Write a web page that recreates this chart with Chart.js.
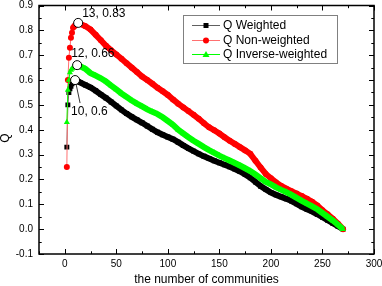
<!DOCTYPE html>
<html>
<head>
<meta charset="utf-8">
<script src="https://cdn.jsdelivr.net/npm/chart.js@4.4.0/dist/chart.umd.min.js"></script>
<style>
  html, body { margin: 0; padding: 0; background: #fff; }
</style>
</head>
<body>
<canvas id="qChart" width="382" height="286"></canvas>
<script>
// number of communities (x) and modularity values
const communities = [2, 3, 4, 5, 6, 7, 8, 9, 10, 11, 12, 13,
  15, 20, 25, 30, 35, 40, 45, 50, 55, 60, 65, 70, 75, 80, 85, 90, 95, 100,
  105, 110, 115, 120, 125, 130, 135, 140, 145, 150, 155, 160, 165, 170, 175, 180,
  185, 190, 195, 200, 205, 210, 215, 220, 225, 230, 235, 240, 245, 250, 255, 260, 265, 270];

const qWeighted = [0.33, 0.50, 0.55, 0.565, 0.575, 0.585, 0.59, 0.595, 0.60, 0.598, 0.596, 0.594,
  0.59, 0.58, 0.57, 0.557, 0.542, 0.528, 0.512, 0.496, 0.48, 0.465, 0.452, 0.44, 0.428, 0.415, 0.402, 0.39, 0.38, 0.371,
  0.362, 0.35, 0.337, 0.325, 0.314, 0.303, 0.293, 0.284, 0.275, 0.267, 0.259, 0.251, 0.242, 0.232, 0.22, 0.207,
  0.19, 0.173, 0.16, 0.147, 0.138, 0.13, 0.122, 0.113, 0.102, 0.09, 0.08, 0.071, 0.06, 0.048, 0.036, 0.024, 0.012, 0.0];

const qNonWeighted = [0.25, 0.60, 0.69, 0.73, 0.77, 0.79, 0.81, 0.815, 0.82, 0.825, 0.828, 0.83,
  0.826, 0.817, 0.803, 0.782, 0.76, 0.738, 0.72, 0.703, 0.686, 0.668, 0.65, 0.632, 0.614, 0.60, 0.585, 0.569, 0.555, 0.54,
  0.522, 0.505, 0.49, 0.475, 0.46, 0.444, 0.426, 0.41, 0.398, 0.385, 0.37, 0.356, 0.343, 0.33, 0.317, 0.303,
  0.275, 0.248, 0.222, 0.205, 0.188, 0.174, 0.163, 0.153, 0.143, 0.133, 0.122, 0.11, 0.095, 0.076, 0.06, 0.042, 0.022, 0.0];

const qInverse = [0.43, 0.56, 0.60, 0.63, 0.64, 0.645, 0.65, 0.653, 0.656, 0.658, 0.66, 0.658,
  0.655, 0.645, 0.628, 0.618, 0.607, 0.594, 0.578, 0.562, 0.546, 0.532, 0.518, 0.505, 0.494, 0.482, 0.472, 0.463, 0.45, 0.435,
  0.42, 0.40, 0.385, 0.37, 0.356, 0.343, 0.33, 0.318, 0.307, 0.296, 0.286, 0.276, 0.266, 0.256, 0.245, 0.234,
  0.22, 0.205, 0.19, 0.18, 0.168, 0.158, 0.149, 0.138, 0.126, 0.114, 0.103, 0.092, 0.08, 0.065, 0.05, 0.035, 0.018, 0.0];

// highlighted maxima
const peakX = [13, 12, 10];
const peakQ = [0.83, 0.66, 0.60];
const peakLabels = ['13, 0.83', '12, 0.66', '10, 0.6'];

const xTicks = [0, 50, 100, 150, 200, 250, 300];
const yTicks = [-0.1, 0.0, 0.1, 0.2, 0.3, 0.4, 0.5, 0.6, 0.7, 0.8, 0.9];

const seriesNames = ['Q Weighted', 'Q Non-weighted', 'Q Inverse-weighted'];

const FONT = '"Liberation Sans", Arial, sans-serif';

function toPoints(xs, ys) {
  return xs.map((x, i) => ({ x: x, y: ys[i] }));
}

// thin connecting line near the start, thick band where the markers pile up
function band(thinColor, bandColor) {
  return {
    borderWidth: c => (c.p0.parsed.x >= 9 ? 6 : 1),
    borderColor: c => (c.p0.parsed.x >= 9 ? bandColor : thinColor)
  };
}

function drawMarker(ctx, style, x, y, color) {
  ctx.fillStyle = color;
  ctx.beginPath();
  if (style === 'rect') {
    ctx.rect(x - 2.5, y - 2.5, 5, 5);
  } else if (style === 'circle') {
    ctx.arc(x, y, 3, 0, Math.PI * 2);
  } else {
    ctx.moveTo(x, y - 3.5);
    ctx.lineTo(x + 3.5, y + 2.5);
    ctx.lineTo(x - 3.5, y + 2.5);
    ctx.closePath();
  }
  ctx.fill();
}

const decorations = {
  id: 'decorations',
  afterDraw(chart) {
    const ctx = chart.ctx;
    const area = chart.chartArea;
    const xs = chart.scales.x;
    const ys = chart.scales.y;
    ctx.save();

    // frame
    ctx.strokeStyle = '#000';
    ctx.lineWidth = 1.5;
    ctx.strokeRect(area.left, area.top, area.right - area.left, area.bottom - area.top);

    // inward ticks on all four sides
    ctx.lineWidth = 1;
    ctx.beginPath();
    for (let v = -25; v <= 300; v += 25) {
      const px = Math.round(xs.getPixelForValue(v)) + 0.5;
      const len = v % 50 === 0 ? 5 : 2.7;
      ctx.moveTo(px, area.bottom); ctx.lineTo(px, area.bottom - len);
      ctx.moveTo(px, area.top); ctx.lineTo(px, area.top + len);
    }
    for (let k = -2; k <= 18; k++) {
      const v = k * 0.05;
      const py = Math.round(ys.getPixelForValue(v)) + 0.5;
      const len = k % 2 === 0 ? 5 : 2.7;
      ctx.moveTo(area.left, py); ctx.lineTo(area.left + len, py);
      ctx.moveTo(area.right, py); ctx.lineTo(area.right - len, py);
    }
    ctx.stroke();

    // axis titles
    ctx.fillStyle = '#000';
    ctx.font = '12px ' + FONT;
    ctx.textAlign = 'center';
    ctx.textBaseline = 'middle';
    ctx.fillText('the number of communities', (area.left + area.right) / 2, 280);
    ctx.save();
    ctx.translate(6, 138);
    ctx.rotate(-Math.PI / 2);
    ctx.fillText('Q', 0, 0);
    ctx.restore();

    // peak labels
    ctx.font = '12px ' + FONT;
    ctx.textAlign = 'left';
    const offsets = [[4, -9], [-6, -11], [-4, 32]];
    peakX.forEach((x, i) => {
      const px = xs.getPixelForValue(x);
      const py = ys.getPixelForValue(peakQ[i]);
      ctx.fillText(peakLabels[i], px + offsets[i][0], py + offsets[i][1]);
    });
    // leader line for the lowest label
    const lx = xs.getPixelForValue(peakX[2]);
    const ly = ys.getPixelForValue(peakQ[2]);
    ctx.strokeStyle = '#000';
    ctx.lineWidth = 0.8;
    ctx.beginPath();
    ctx.moveTo(lx + 1, ly + 4);
    ctx.lineTo(lx + 5, ly + 23);
    ctx.stroke();

    // legend box
    const bx = 183, by = 15, bw = 154, bh = 48;
    ctx.fillStyle = '#fff';
    ctx.fillRect(bx, by, bw, bh);
    ctx.strokeStyle = '#808080';
    ctx.lineWidth = 1;
    ctx.strokeRect(bx + 0.5, by + 0.5, bw, bh);
    const lineColors = ['#606060', '#ff7070', '#00ff00'];
    const markColors = ['#000000', '#ff0000', '#00ff00'];
    const styles = ['rect', 'circle', 'triangle'];
    const rowsY = [25, 40, 54];
    ctx.font = '12px ' + FONT;
    ctx.textBaseline = 'middle';
    seriesNames.forEach((name, i) => {
      const y = rowsY[i];
      ctx.strokeStyle = lineColors[i];
      ctx.beginPath();
      ctx.moveTo(192, y + 0.5);
      ctx.lineTo(220, y + 0.5);
      ctx.stroke();
      drawMarker(ctx, styles[i], 206, y + 0.5, markColors[i]);
      ctx.fillStyle = '#000';
      ctx.fillText(name, 223, y + 1);
    });

    ctx.restore();
  }
};

const qChart = new Chart(document.getElementById('qChart').getContext('2d'), {
  type: 'scatter',
  data: {
    datasets: [
      {
        label: 'peaks',
        data: toPoints(peakX, peakQ),
        pointStyle: 'circle',
        pointRadius: 4.5,
        pointBackgroundColor: '#fff',
        pointBorderColor: '#000',
        pointBorderWidth: 1,
        showLine: false,
        order: 0
      },
      {
        label: seriesNames[2],
        data: toPoints(communities, qInverse),
        showLine: true,
        pointStyle: 'triangle',
        pointRadius: 3.5,
        pointBackgroundColor: '#00ff00',
        pointBorderWidth: 0,
        borderColor: '#00ff00',
        segment: band('#00ff00', '#00ff00'),
        order: 1
      },
      {
        label: seriesNames[1],
        data: toPoints(communities, qNonWeighted),
        showLine: true,
        pointStyle: 'circle',
        pointRadius: 3,
        pointBackgroundColor: '#ff0000',
        pointBorderWidth: 0,
        borderColor: '#ff7070',
        segment: band('#ff7070', '#ff0000'),
        order: 2
      },
      {
        label: seriesNames[0],
        data: toPoints(communities, qWeighted),
        showLine: true,
        pointStyle: 'rect',
        pointRadius: 3.5,
        pointBackgroundColor: '#000',
        pointBorderWidth: 0,
        borderColor: '#606060',
        segment: band('#606060', '#000000'),
        order: 3
      }
    ]
  },
  options: {
    responsive: false,
    animation: false,
    devicePixelRatio: 1,
    layout: { padding: { top: 4, right: 8, left: 0, bottom: 0 } },
    plugins: {
      legend: { display: false },
      tooltip: { enabled: false }
    },
    elements: { line: { tension: 0 } },
    scales: {
      x: {
        type: 'linear',
        min: -25,
        max: 300,
        grid: { display: false, drawTicks: false },
        border: { display: false },
        ticks: { color: '#000', font: { family: FONT, size: 10 }, padding: 4, maxRotation: 0 },
        afterBuildTicks: s => { s.ticks = xTicks.map(v => ({ value: v })); },
        afterFit: s => { s.height = 32; s.paddingLeft = 0; s.paddingRight = 0; }
      },
      y: {
        type: 'linear',
        min: -0.1,
        max: 0.9,
        grid: { display: false, drawTicks: false },
        border: { display: false },
        ticks: {
          color: '#000',
          font: { family: FONT, size: 10 },
          padding: 6,
          callback: v => v.toFixed(1)
        },
        afterBuildTicks: s => { s.ticks = yTicks.map(v => ({ value: v })); },
        afterFit: s => { s.width = 39; s.paddingTop = 0; s.paddingBottom = 0; }
      }
    }
  },
  plugins: [decorations]
});
</script>
</body>
</html>
